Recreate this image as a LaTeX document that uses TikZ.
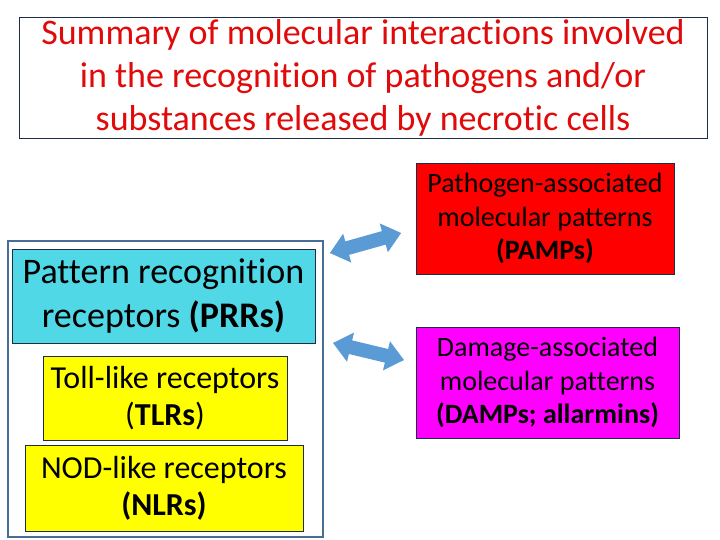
\documentclass[tikz,border=0pt]{standalone}
\usepackage{fontspec}
\setmainfont[Ligatures=NoCommon]{Carlito}
\definecolor{titlered}{RGB}{225,10,10}
\definecolor{prrcyan}{RGB}{80,216,230}
\definecolor{arrowblue}{RGB}{91,155,213}
\definecolor{outerblue}{RGB}{70,110,150}
\definecolor{darkline}{RGB}{30,45,70}
\definecolor{boxyellow}{RGB}{255,255,0}
\definecolor{boxred}{RGB}{255,0,0}
\definecolor{boxmagenta}{RGB}{255,0,255}
\tikzset{
  x=1pt, y=-1pt,
  box/.style={draw=darkline, line width=0.8pt, align=center, inner sep=0pt},
  bigtxt/.style={font=\fontsize{36}{44}\selectfont},
  midtxt/.style={font=\fontsize{32}{37}\selectfont},
  smalltxt/.style={font=\fontsize{28}{33.5}\selectfont, text=black},
  blockarrow/.style={fill=arrowblue, draw=none}
}
\newcommand\mydblarrow[4]{%
  \begin{scope}[shift={(#1,#2)}, rotate=#3]
    \path[blockarrow] (-#4/2,0) -- (-#4/2+18,15) -- (-#4/2+18,7) -- (#4/2-18,7)
      -- (#4/2-18,15) -- (#4/2,0) -- (#4/2-18,-15) -- (#4/2-18,-7)
      -- (-#4/2+18,-7) -- (-#4/2+18,-15) -- cycle;
  \end{scope}}
\begin{document}
\begin{tikzpicture}
\useasboundingbox (0,0) rectangle (720,540);
\node[box, minimum width=688pt, minimum height=121pt, text=titlered,
  font=\fontsize{36}{43}\selectfont] (title) at (363,77.5)
  {Summary of molecular interactions involved\\in the recognition of pathogens and/or\\substances released by necrotic cells};
\node[draw=outerblue, line width=1.2pt, minimum width=315pt, minimum height=296pt] (outer) at (165.5,389) {};
\node[box, fill=prrcyan, minimum width=303pt, minimum height=94pt, bigtxt] (prr) at (163.5,296)
  {Pattern recognition\\receptors \textbf{(PRRs)}};
\node[box, fill=boxyellow, minimum width=244pt, minimum height=84pt, midtxt] (tlr) at (165,398)
  {Toll-like receptors\\(\textbf{TLRs})};
\node[box, fill=boxyellow, minimum width=278pt, minimum height=86pt, midtxt] (nlr) at (164,488)
  {NOD-like receptors\\\textbf{(NLRs)}};
\node[box, fill=boxred, minimum width=258pt, minimum height=111pt, smalltxt] (pamp) at (545,218.5)
  {Pathogen-associated\\molecular patterns\\\textbf{(PAMPs)}};
\node[box, fill=boxmagenta, minimum width=263pt, minimum height=111pt, smalltxt] (damp) at (547.5,382.5)
  {Damage-associated\\molecular patterns\\\textbf{(DAMPs; allarmins)}};
\mydblarrow{365.5}{243}{15.7}{74}
\mydblarrow{368.5}{351.5}{-13.5}{73}
\end{tikzpicture}
\end{document}
